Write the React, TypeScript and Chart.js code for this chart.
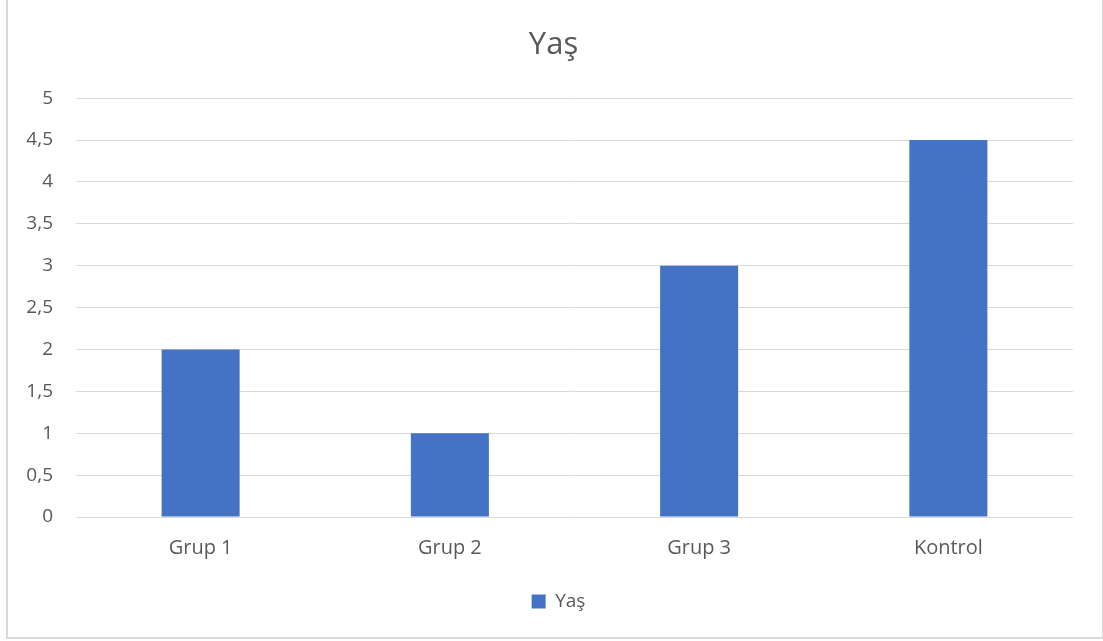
import React, { useEffect, useRef } from "react";
import { Chart, registerables } from "chart.js";

Chart.register(...registerables);

const categories = ["Grup 1", "Grup 2", "Grup 3", "Kontrol"];
const seriesName = "Yaş";
const values = [2, 1, 3, 4.5];
const titleText = "Yaş";

const FONT = "'Open Sans', 'Noto Sans', sans-serif";
const GREY = "#595959";

const boxShift = {
  id: "boxShift",
  afterLayout(chart: any) {
    const lg = chart.legend;
    if (lg) {
      lg.left += 22;
      lg.right += 22;
      lg.top += 3;
      lg.bottom += 3;
    }
    const tt = chart.titleBlock;
    if (tt) {
      tt.left += 17;
      tt.right += 17;
    }
  },
};

export default function App() {
  const ref = useRef<HTMLCanvasElement | null>(null);
  useEffect(() => {
    document.body.style.margin = "0";
    const ctx = ref.current!.getContext("2d")!;
    const chart = new Chart(ctx, {
      type: "bar",
      data: {
        labels: categories,
        datasets: [
          {
            label: seriesName,
            data: values,
            backgroundColor: "#4472C4",
            borderWidth: 0,
            categoryPercentage: 1,
            barPercentage: 0.313,
          },
        ],
      },
      plugins: [boxShift],
      options: {
        animation: false,
        responsive: false,
        devicePixelRatio: 1,
        layout: { padding: { left: 0, right: 30, top: 0, bottom: 23 } },
        plugins: {
          title: {
            display: true,
            text: titleText,
            color: GREY,
            font: { family: FONT, size: 31, weight: "normal", lineHeight: 1.2 },
            padding: { top: 27, bottom: 34 },
          },
          legend: {
            display: true,
            position: "bottom",
            labels: {
              color: GREY,
              font: { family: FONT, size: 19 },
              boxWidth: 14,
              boxHeight: 14,
              padding: 10,
            },
          },
          tooltip: { enabled: false },
        },
        scales: {
          x: {
            grid: { display: false, drawTicks: false },
            border: { display: false },
            ticks: { color: GREY, font: { family: FONT, size: 20 }, padding: 19 },
          },
          y: {
            min: 0,
            max: 5,
            afterFit: (s: any) => {
              s.width = 76;
            },
            grid: { color: "#d9d9d9", lineWidth: 1, drawTicks: false },
            border: { display: false },
            ticks: {
              stepSize: 0.5,
              color: GREY,
              font: { family: FONT, size: 19 },
              padding: 23,
              callback: (v: any) => String(v).replace(".", ","),
            },
          },
        },
      },
    });
    return () => chart.destroy();
  }, []);
  return (
    <div style={{ position: "relative", width: 1103, height: 641, background: "#fff" }}>
      <div
        style={{
          position: "absolute",
          left: 6,
          top: -2,
          width: 1094,
          height: 637,
          border: "2px solid #d9d9d9",
        }}
      />
      <canvas ref={ref} width={1103} height={641} style={{ position: "absolute", left: 0, top: 0 }} />
    </div>
  );
}
